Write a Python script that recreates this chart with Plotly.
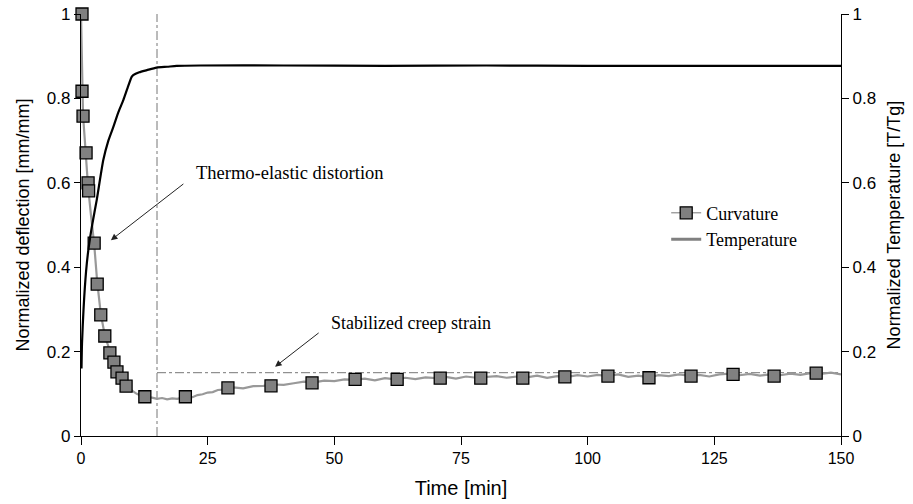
import plotly.graph_objects as go

# ---- data ----
curv_marker_time = [0.2, 0.2, 0.4, 1.0, 1.4, 1.5, 2.6, 3.2, 3.9, 4.7, 5.7, 6.5, 7.1, 8.1, 8.9,
                    12.6, 20.6, 29.0, 37.5, 45.6, 54.1, 62.4, 70.9, 78.9, 87.2, 95.5, 104.0,
                    112.1, 120.4, 128.7, 136.8, 145.1]
curv_marker_val = [1.0, 0.817, 0.758, 0.671, 0.600, 0.581, 0.457, 0.360, 0.287, 0.237, 0.197,
                   0.175, 0.152, 0.137, 0.118, 0.093, 0.093, 0.114, 0.119, 0.126, 0.134, 0.134,
                   0.137, 0.137, 0.137, 0.140, 0.142, 0.138, 0.142, 0.146, 0.142, 0.149]

curv_line_time = [0, 0.2, 0.4, 0.7, 1.0, 1.4, 2.0, 2.6, 3.2, 3.9, 4.7, 5.7, 6.5, 7.1, 8.1, 9, 10,
                  11, 12, 13, 14, 15, 16, 17, 18, 19, 20, 21, 22, 23, 24, 25, 26, 27, 28, 29, 30,
                  32, 34, 36, 38, 40, 42, 44, 46, 48, 50, 52, 54, 56, 58, 60, 62, 64, 66, 68, 70,
                  72, 74, 76, 78, 80, 82, 84, 86, 88, 90, 92, 94, 96, 98, 100, 102, 104, 106, 108,
                  110, 112, 114, 116, 118, 120, 122, 124, 126, 128, 130, 132, 134, 136, 138, 140,
                  142, 144, 146, 148, 150]
curv_line_val = [1.0, 0.85, 0.76, 0.71, 0.66, 0.59, 0.52, 0.455, 0.365, 0.29, 0.238, 0.198, 0.172,
                 0.155, 0.135, 0.118, 0.108, 0.100, 0.095, 0.092, 0.091, 0.088, 0.090, 0.087,
                 0.089, 0.088, 0.091, 0.093, 0.092, 0.097, 0.099, 0.103, 0.104, 0.109, 0.110,
                 0.114, 0.115, 0.113, 0.118, 0.119, 0.122, 0.121, 0.125, 0.129, 0.127, 0.131,
                 0.130, 0.134, 0.133, 0.136, 0.132, 0.137, 0.134, 0.138, 0.135, 0.139, 0.137,
                 0.140, 0.136, 0.141, 0.138, 0.140, 0.142, 0.138, 0.141, 0.139, 0.143, 0.138,
                 0.142, 0.140, 0.144, 0.141, 0.145, 0.142, 0.146, 0.140, 0.143, 0.139, 0.144,
                 0.142, 0.146, 0.143, 0.145, 0.141, 0.146, 0.148, 0.144, 0.147, 0.143, 0.146,
                 0.144, 0.148, 0.145, 0.149, 0.147, 0.150, 0.146]

temp_time = [0.1, 0.2, 0.5, 1.0, 1.44, 2.2, 3.1, 4.4, 5.4, 6.4, 7.4, 8.35, 9.2, 10.0, 10.3, 11.5,
             13.0, 14.9, 17, 18.9, 23.5, 40, 60, 80, 100, 120, 150]
temp_val = [0.16, 0.22, 0.30, 0.39, 0.44, 0.50, 0.559, 0.654, 0.70, 0.733, 0.768, 0.796, 0.825,
            0.851, 0.855, 0.862, 0.867, 0.873, 0.875, 0.877, 0.878, 0.878, 0.877, 0.878, 0.877,
            0.877, 0.877]

stab_time = 15
stab_level = 0.15
x_ticks = [0, 25, 50, 75, 100, 125, 150]
y_ticks = [0, 0.2, 0.4, 0.6, 0.8, 1]

GRAY_LINE = "#999999"
MARK_FILL = "#808080"
REF = "#777777"
SERIF = "Liberation Serif, Times New Roman, serif"

fig = go.Figure()

# reference dash-dot lines
fig.add_trace(go.Scatter(x=[stab_time, stab_time], y=[0, 1], mode="lines",
                         line=dict(color=REF, width=1, dash="dashdot"), showlegend=False,
                         hoverinfo="skip"))
fig.add_trace(go.Scatter(x=[stab_time, x_ticks[-1]], y=[stab_level, stab_level], mode="lines",
                         line=dict(color=REF, width=1, dash="dashdot"), showlegend=False,
                         hoverinfo="skip"))

# curvature line
fig.add_trace(go.Scatter(x=curv_line_time, y=curv_line_val, mode="lines",
                         line=dict(color=GRAY_LINE, width=2.2), showlegend=False))
# temperature
fig.add_trace(go.Scatter(x=temp_time, y=temp_val, mode="lines", yaxis="y2",
                         line=dict(color="black", width=2.2, shape="spline", smoothing=0.6),
                         showlegend=False))
# curvature markers
fig.add_trace(go.Scatter(x=curv_marker_time, y=curv_marker_val, mode="markers",
                         marker=dict(symbol="square", size=12, color=MARK_FILL,
                                     line=dict(color="black", width=1.3)),
                         showlegend=False, cliponaxis=False))

# legend entries
fig.add_trace(go.Scatter(x=[None], y=[None], mode="lines+markers", name="Curvature",
                         legendgroup="a",
                         line=dict(color="#777777", width=1),
                         marker=dict(symbol="square", size=12, color=MARK_FILL,
                                     line=dict(color="black", width=1.3))))
fig.add_trace(go.Scatter(x=[None], y=[None], mode="lines", name="Temperature",
                         legendgroup="b",
                         line=dict(color="#808080", width=3)))

fig.update_layout(
    width=913, height=504,
    margin=dict(l=81, r=72, t=14, b=68),
    paper_bgcolor="white", plot_bgcolor="white",
    font=dict(family="Liberation Sans, Arial, sans-serif", size=17, color="black"),
    showlegend=True,
    legend=dict(x=0.77, y=0.572, xanchor="left", yanchor="top",
                font=dict(family=SERIF, size=18),
                bgcolor="rgba(0,0,0,0)", tracegroupgap=0, traceorder="grouped"),
    xaxis=dict(range=[0, 150], tickvals=x_ticks, showline=True, linecolor="black",
               linewidth=1.3, ticks="outside", ticklen=8, tickcolor="black", showgrid=False,
               zeroline=False, automargin=False,
               tickfont=dict(size=16),
               title=dict(text="Time [min]", standoff=14, font=dict(size=20))),
    yaxis=dict(range=[0, 1], tickvals=y_ticks, showline=True, linecolor="black",
               linewidth=1.3, ticks="outside", ticklen=6, tickcolor="black", showgrid=False,
               zeroline=False, automargin=False,
               title=dict(text="Normalized deflection [mm/mm]", standoff=12,
                          font=dict(size=18))),
    yaxis2=dict(range=[0, 1], tickvals=y_ticks, overlaying="y", side="right", showline=True,
                linecolor="black", linewidth=1.3, ticks="outside", ticklen=7, tickcolor="black",
                showgrid=False, zeroline=False, automargin=False,
                title=dict(text="Normalized Temperature [T/Tg]", standoff=12,
                           font=dict(size=18))),
)

fig.add_annotation(x=5.9, y=0.464, ax=20.5, ay=0.60, xref="x", yref="y", axref="x", ayref="y",
                   text="", showarrow=True, arrowhead=2, arrowsize=1.3, arrowwidth=1,
                   arrowcolor="#222222")
fig.add_annotation(x=22.4, y=0.623, xref="x", yref="y", text="Thermo-elastic distortion",
                   showarrow=False, xanchor="left", font=dict(family=SERIF, size=18.5))
fig.add_annotation(x=38.3, y=0.164, ax=47.2, ay=0.247, xref="x", yref="y", axref="x", ayref="y",
                   text="", showarrow=True, arrowhead=2, arrowsize=1.3, arrowwidth=1,
                   arrowcolor="#222222")
fig.add_annotation(x=49.0, y=0.268, xref="x", yref="y", text="Stabilized creep strain",
                   showarrow=False, xanchor="left", font=dict(family=SERIF, size=18))

fig.write_html("out.html")
